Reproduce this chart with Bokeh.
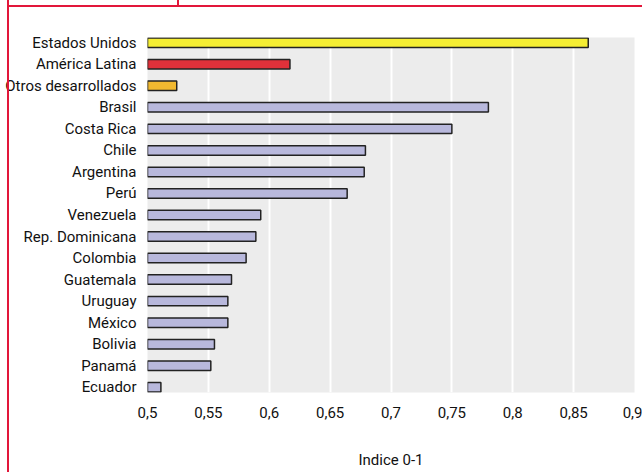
from bokeh.plotting import figure
from bokeh.models import FixedTicker, ColumnDataSource, FactorRange, InlineStyleSheet
from bokeh.embed import file_html
from bokeh.resources import INLINE

categories = ["Estados Unidos", "América Latina", "Otros desarrollados", "Brasil",
              "Costa Rica", "Chile", "Argentina", "Perú", "Venezuela",
              "Rep. Dominicana", "Colombia", "Guatemala", "Uruguay", "México",
              "Bolivia", "Panamá", "Ecuador"]
values = [0.862, 0.617, 0.524, 0.780, 0.750, 0.679, 0.678, 0.664, 0.593,
          0.589, 0.581, 0.569, 0.566, 0.566, 0.555, 0.552, 0.511]
bar_colors = ["#f5ee33", "#e0313a", "#f0b830"] + ["#b8b8dc"] * 14
x_ticks = [0.5, 0.55, 0.6, 0.65, 0.7, 0.75, 0.8, 0.85, 0.9]
x_tick_labels = ["0,5", "0,55", "0,6", "0,65", "0,7", "0,75", "0,8", "0,85", "0,9"]
x_title = "Indice 0-1"

FONT = "Roboto"

src = ColumnDataSource(dict(cat=categories, val=values, col=bar_colors))

p = figure(width=642, height=472, output_backend="svg", toolbar_location=None,
           y_range=FactorRange(*reversed(categories), range_padding=-0.03),
           x_range=(0.5, 0.9),
           min_border_left=147, min_border_right=8, min_border_top=37,
           min_border_bottom=80)

p.hbar(y="cat", left=0.5, right="val", height=0.44, source=src,
       fill_color="col", line_color="#222222", line_width=1.5)

p.background_fill_color = "#ececec"
p.border_fill_color = "white"
p.outline_line_color = None
p.ygrid.grid_line_color = None
p.xgrid.grid_line_color = "white"
p.xgrid.grid_line_width = 2

p.xaxis.ticker = FixedTicker(ticks=x_ticks)
p.xaxis.major_label_overrides = {t: l for t, l in zip(x_ticks, x_tick_labels)}
p.xaxis.axis_label = x_title
for ax in (p.xaxis, p.yaxis):
    ax.axis_line_color = None
    ax.major_tick_line_color = None
    ax.minor_tick_line_color = None
    ax.major_label_text_font = FONT
    ax.major_label_text_font_size = "15px"
    ax.major_label_text_color = "#111111"
p.xaxis.major_label_standoff = 8
p.yaxis.major_label_standoff = 5
p.xaxis.axis_label_text_font = FONT
p.xaxis.axis_label_text_font_size = "15px"
p.xaxis.axis_label_text_font_style = "normal"
p.xaxis.axis_label_text_color = "#111111"
p.xaxis.axis_label_standoff = 30

red = "#e2173a"
css = f"""
:host::after {{
  content: "";
  position: absolute;
  left: 0; top: 0; width: 642px; height: 472px;
  pointer-events: none;
  z-index: 10;
  background:
    linear-gradient({red},{red}) 7px 0 / 2px 472px no-repeat,
    linear-gradient({red},{red}) 8px 5px / 634px 2px no-repeat,
    linear-gradient({red},{red}) 177px 0 / 2px 6px no-repeat;
}}
"""
p.stylesheets = [InlineStyleSheet(css=css)]

open("out.html", "w").write(file_html(p, INLINE))
